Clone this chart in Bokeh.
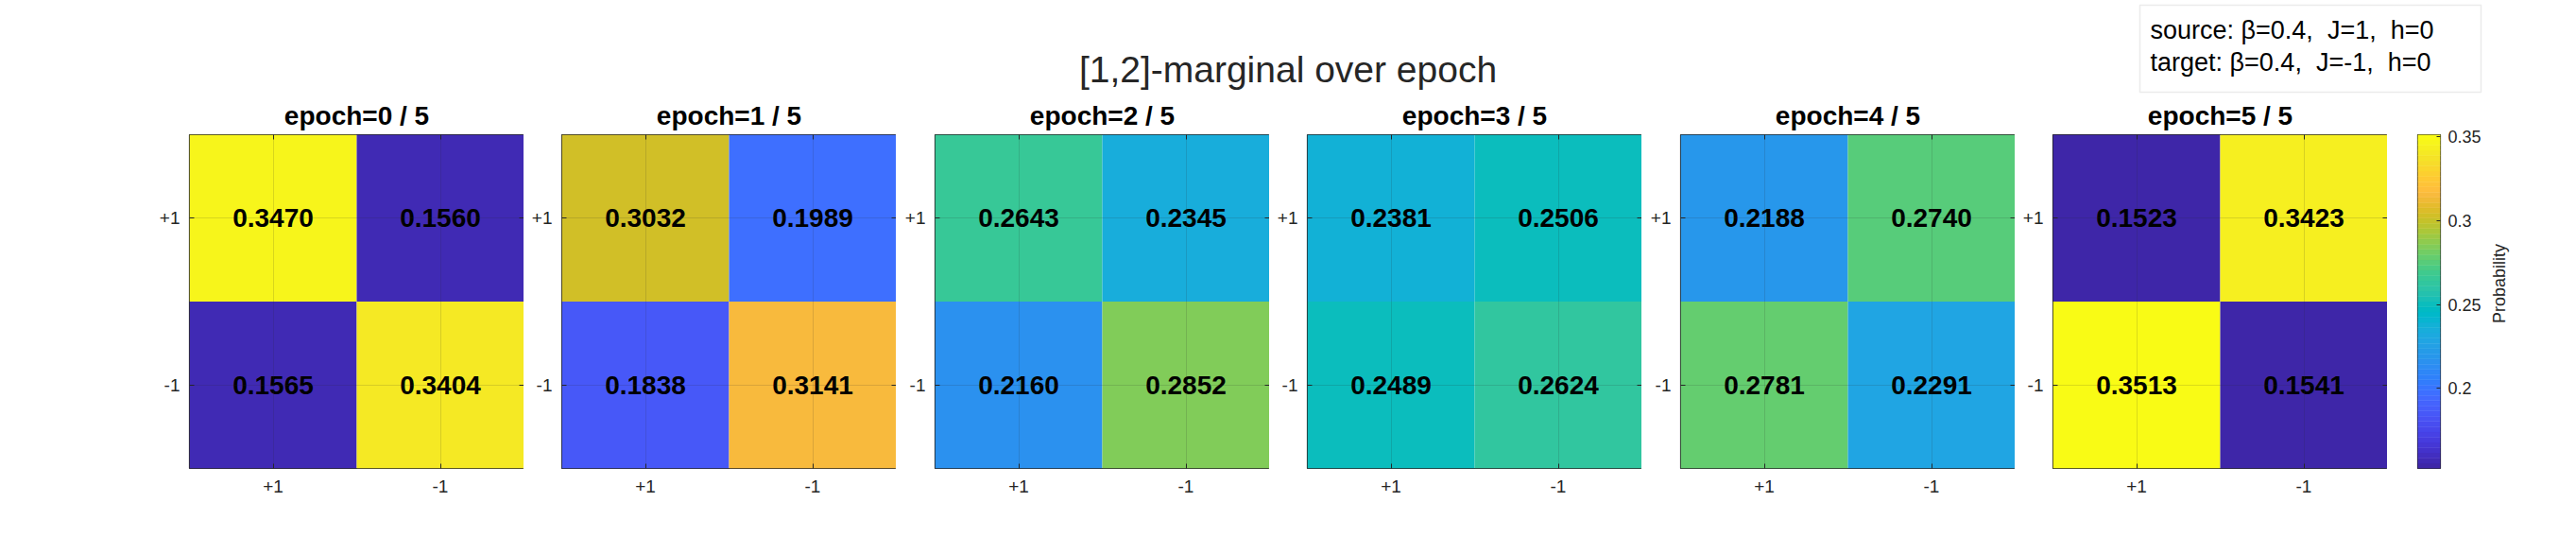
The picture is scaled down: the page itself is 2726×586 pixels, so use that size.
import numpy as np
from bokeh.plotting import figure
from bokeh.models import (ColumnDataSource, Range1d, FixedTicker, LinearAxis,
                          LinearColorMapper, Label, BoxAnnotation)
from bokeh.layouts import row, column
from bokeh.transform import transform
from bokeh.core.properties import value
from bokeh.embed import file_html
from bokeh.resources import INLINE

# ---- data -------------------------------------------------------------
epochs = [0, 1, 2, 3, 4, 5]
n_epochs = 5
spin_labels = ["+1", "-1"]
# joint probability of spins (s1, s2) at each epoch
p_pp = [0.3470, 0.3032, 0.2643, 0.2381, 0.2188, 0.1523]   # s1=+1, s2=+1
p_pm = [0.1560, 0.1989, 0.2345, 0.2506, 0.2740, 0.3423]   # s1=+1, s2=-1
p_mp = [0.1565, 0.1838, 0.2160, 0.2489, 0.2781, 0.3513]   # s1=-1, s2=+1
p_mm = [0.3404, 0.3141, 0.2852, 0.2624, 0.2291, 0.1541]   # s1=-1, s2=-1
cbar_ticks = [0.2, 0.25, 0.3, 0.35]
cbar_label = "Probability"
title_text = "[1,2]-marginal over epoch"
NB = "\u00a0"
info_lines = ["source: \u03b2=0.4," + NB + " J=1," + NB + " h=0",
              "target: \u03b2=0.4," + NB + " J=-1," + NB + " h=0"]

# ---- parula colormap (64 entries) --------------------------------------
PARULA_RGB = [
    (0.2422, 0.1504, 0.6603), (0.2504, 0.1650, 0.7076), (0.2578, 0.1818, 0.7511),
    (0.2647, 0.1978, 0.7952), (0.2706, 0.2147, 0.8364), (0.2751, 0.2342, 0.8710),
    (0.2783, 0.2559, 0.8991), (0.2803, 0.2782, 0.9221), (0.2813, 0.3006, 0.9414),
    (0.2810, 0.3228, 0.9579), (0.2795, 0.3447, 0.9717), (0.2760, 0.3667, 0.9829),
    (0.2699, 0.3892, 0.9906), (0.2602, 0.4123, 0.9952), (0.2440, 0.4358, 0.9988),
    (0.2206, 0.4603, 0.9973), (0.1963, 0.4847, 0.9892), (0.1834, 0.5074, 0.9798),
    (0.1786, 0.5289, 0.9682), (0.1764, 0.5499, 0.9520), (0.1687, 0.5703, 0.9359),
    (0.1540, 0.5902, 0.9218), (0.1460, 0.6091, 0.9079), (0.1380, 0.6276, 0.8973),
    (0.1248, 0.6459, 0.8883), (0.1113, 0.6635, 0.8763), (0.0952, 0.6798, 0.8598),
    (0.0689, 0.6948, 0.8394), (0.0297, 0.7082, 0.8163), (0.0036, 0.7203, 0.7917),
    (0.0067, 0.7312, 0.7660), (0.0433, 0.7411, 0.7394), (0.0964, 0.7500, 0.7120),
    (0.1408, 0.7584, 0.6842), (0.1717, 0.7670, 0.6554), (0.1938, 0.7758, 0.6251),
    (0.2161, 0.7843, 0.5923), (0.2470, 0.7918, 0.5567), (0.2906, 0.7973, 0.5188),
    (0.3406, 0.8008, 0.4789), (0.3909, 0.8029, 0.4354), (0.4456, 0.8024, 0.3909),
    (0.5044, 0.7993, 0.3480), (0.5616, 0.7942, 0.3045), (0.6174, 0.7876, 0.2612),
    (0.6720, 0.7793, 0.2227), (0.7242, 0.7698, 0.1910), (0.7738, 0.7598, 0.1646),
    (0.8203, 0.7498, 0.1535), (0.8634, 0.7406, 0.1596), (0.9035, 0.7330, 0.1774),
    (0.9393, 0.7288, 0.2100), (0.9728, 0.7298, 0.2394), (0.9956, 0.7434, 0.2371),
    (0.9970, 0.7659, 0.2199), (0.9952, 0.7893, 0.2028), (0.9892, 0.8136, 0.1885),
    (0.9786, 0.8386, 0.1766), (0.9676, 0.8639, 0.1643), (0.9610, 0.8890, 0.1537),
    (0.9597, 0.9135, 0.1423), (0.9628, 0.9373, 0.1265), (0.9691, 0.9606, 0.1064),
    (0.9769, 0.9839, 0.0805),
]
parula = ["#%02x%02x%02x" % tuple(int(round(c * 255)) for c in rgb) for rgb in PARULA_RGB]

all_vals = p_pp + p_pm + p_mp + p_mm
c_lo, c_hi = min(all_vals), max(all_vals)
mapper = LinearColorMapper(palette=parula, low=c_lo, high=c_hi)

FONT = "Liberation Sans"
DARK = "#262626"

# ---- header: overall title and parameter box ---------------------------
head = figure(width=2726, height=100, x_range=Range1d(0, 2726), y_range=Range1d(100, 0),
              x_axis_type=None, y_axis_type=None, min_border=0,
              output_backend="svg", toolbar_location=None)
head.outline_line_color = None
head.add_layout(Label(x=1362.5, y=73, text=title_text, text_font=FONT,
                      text_font_size="39px", text_color=DARK,
                      text_align="center", text_baseline="middle"))
head.add_layout(BoxAnnotation(left=2264, right=2625, top=5, bottom=97,
                              fill_alpha=0, line_color="#bdbdbd", line_width=1.5))
for k, line in enumerate(info_lines):
    head.add_layout(Label(x=2275, y=31 + 34 * k, text=line, text_font=FONT,
                          text_font_size="27px", text_color="black",
                          text_align="left", text_baseline="middle"))

# ---- one heatmap per epoch ---------------------------------------------
left_borders = [200, 40, 41, 40, 41, 40]
panels = []
for i, ep in enumerate(epochs):
    vals = [p_pp[i], p_pm[i], p_mp[i], p_mm[i]]
    src = ColumnDataSource(dict(
        x=[1, 2, 1, 2], y=[1, 1, 2, 2], v=vals,
        t=["%.4f" % v for v in vals],
    ))
    p = figure(frame_width=354, frame_height=353,
               x_range=Range1d(0.5, 2.5), y_range=Range1d(2.5, 0.5),
               min_border_left=left_borders[i], min_border_right=0,
               min_border_top=41, min_border_bottom=92,
               title="epoch=%d / %d" % (ep, n_epochs),
               output_backend="svg", toolbar_location=None)
    p.title.text_font = FONT
    p.title.text_font_size = "28px"
    p.title.text_font_style = "bold"
    p.title.text_color = "black"
    p.title.align = "center"
    p.title.standoff = 9

    p.rect(x="x", y="y", width=1, height=1, source=src,
           fill_color=transform("v", mapper), line_color=None)
    p.text(x="x", y="y", text="t", source=src, text_font=value(FONT),
           text_font_size="28px", text_font_style="bold", text_color="black",
           text_align="center", text_baseline="middle")

    ticker = FixedTicker(ticks=[1, 2])
    overrides = {1: spin_labels[0], 2: spin_labels[1]}
    for ax in (p.xaxis[0], p.yaxis[0]):
        ax.ticker = ticker
        ax.major_label_overrides = overrides
        ax.major_label_text_font = FONT
        ax.major_label_text_font_size = "19px"
        ax.major_label_text_color = DARK
        ax.major_tick_in = 5
        ax.major_tick_out = 0
        ax.minor_tick_line_color = None
        ax.major_tick_line_color = DARK
        ax.axis_line_color = None
        ax.major_label_standoff = 12
    p.yaxis.major_label_standoff = 10

    # tick marks on the opposite sides of the box
    for loc in ("right", "above"):
        ax = LinearAxis(ticker=FixedTicker(ticks=[1, 2]),
                        major_label_overrides={1: "", 2: ""},
                        major_label_text_font_size="0px", major_label_standoff=0,
                        major_tick_in=5, major_tick_out=0, minor_tick_line_color=None,
                        major_tick_line_color=DARK, axis_line_color=None)
        p.add_layout(ax, loc)

    p.grid.grid_line_color = DARK
    p.grid.grid_line_alpha = 0.15
    p.grid.level = "overlay"
    p.outline_line_color = DARK
    p.outline_line_width = 1.2
    panels.append(p)

# ---- colour scale ---------------------------------------------------------
n_col = len(parula)
edges = np.linspace(c_lo, c_hi, n_col + 1)
cb = figure(frame_width=24, frame_height=353,
            x_range=Range1d(0, 1), y_range=Range1d(c_lo, c_hi),
            x_axis_type=None, y_axis_location="right",
            min_border_left=32, min_border_right=50,
            min_border_top=41, min_border_bottom=92,
            output_backend="svg", toolbar_location=None)
cb.quad(left=0, right=1, bottom=edges[:-1], top=edges[1:],
        fill_color=parula, line_color=parula, line_width=0.5)
cb.grid.visible = False
cb.outline_line_color = DARK
cb.outline_line_width = 1.2
cax = cb.yaxis[0]
cax.ticker = FixedTicker(ticks=cbar_ticks)
cax.major_label_overrides = {t: ("%g" % t) for t in cbar_ticks}
cax.major_label_text_font = FONT
cax.major_label_text_font_size = "18px"
cax.major_label_text_color = DARK
cax.major_tick_in = 4
cax.major_tick_out = 0
cax.major_tick_line_color = DARK
cax.minor_tick_line_color = None
cax.axis_line_color = None
cax.major_label_standoff = 8

# colour-scale caption, reading upwards
cap = figure(width=94, height=486, x_range=Range1d(0, 94), y_range=Range1d(486, 0),
             x_axis_type=None, y_axis_type=None, min_border=0,
             output_backend="svg", toolbar_location=None)
cap.outline_line_color = None
cap.add_layout(Label(x=12.5, y=217.5, text=cbar_label, angle=np.pi / 2,
                     text_font=FONT, text_font_size="18px", text_color=DARK,
                     text_align="center", text_baseline="middle"))

layout = column(head, row(*panels, cb, cap))

with open("out.html", "w") as f:
    f.write(file_html(layout, INLINE))
